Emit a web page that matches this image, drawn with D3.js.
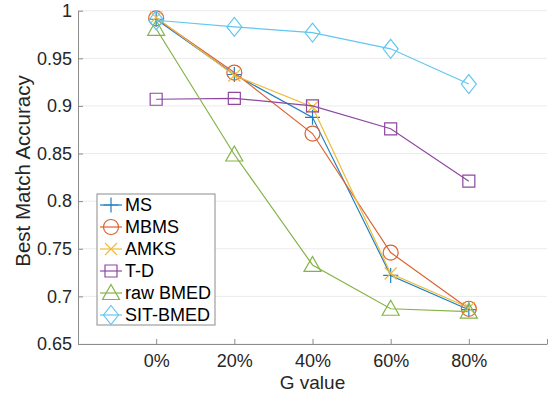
<!DOCTYPE html>
<html>
<head>
<meta charset="utf-8">
<script src="https://cdn.jsdelivr.net/npm/d3@7"></script>
<style>
  body { margin: 0; background: #fff; }
  svg { display: block; font-family: "Liberation Sans", Arial, sans-serif; }
</style>
</head>
<body>
<div id="chart"></div>
<script>
// x categories (G value, percent)
const gValues = [0, 20, 40, 60, 80];
const xTickLabels = ["0%", "20%", "40%", "60%", "80%"];
const yTicks = [0.65, 0.7, 0.75, 0.8, 0.85, 0.9, 0.95, 1];

// series values
const ms      = [0.991, 0.933, 0.888, 0.722, 0.686];
const mbms    = [0.992, 0.935, 0.871, 0.746, 0.687];
const amks    = [0.993, 0.932, 0.899, 0.724, 0.688];
const td      = [0.907, 0.908, 0.900, 0.876, 0.821];
const rawBmed = [0.981, 0.849, 0.733, 0.687, 0.684];
const sitBmed = [0.990, 0.983, 0.977, 0.960, 0.923];

const seriesNames = ["MS", "MBMS", "AMKS", "T-D", "raw BMED", "SIT-BMED"];
const seriesData = [ms, mbms, amks, td, rawBmed, sitBmed];
const colors = ["#1f7fc4", "#dc6331", "#eebb3a", "#8e48a0", "#84b447", "#63c6f0"];
const markers = ["plus", "circle", "cross", "square", "triangle", "diamond"];

const width = 550, height = 398;
const plot = { left: 78, right: 547, top: 10.7, bottom: 344 };

const svg = d3.select("#chart").append("svg")
  .attr("width", width)
  .attr("height", height);

const xScale = d3.scaleLinear().domain([-20, 100]).range([plot.left, plot.right]);
const yScale = d3.scaleLinear().domain([0.65, 1]).range([plot.bottom, plot.top]);

// horizontal grid
svg.append("g")
  .selectAll("line")
  .data(yTicks)
  .enter().append("line")
  .attr("x1", plot.left).attr("x2", plot.right)
  .attr("y1", d => yScale(d)).attr("y2", d => yScale(d))
  .attr("stroke", "#ebebeb")
  .attr("stroke-width", 1);

// axes (MATLAB style, ticks pointing inward)
const xAxis = svg.append("g")
  .attr("transform", "translate(0," + plot.bottom + ")")
  .call(d3.axisBottom(xScale).tickValues(gValues.concat([100])).tickSizeInner(-5).tickSizeOuter(0).tickPadding(10)
    .tickFormat((d, i) => i < xTickLabels.length ? xTickLabels[i] : ""));

const yAxis = svg.append("g")
  .attr("transform", "translate(" + plot.left + ",0)")
  .call(d3.axisLeft(yScale).tickValues(yTicks).tickSizeInner(-5).tickSizeOuter(0).tickPadding(6)
    .tickFormat(d => d3.format("")(+d.toFixed(2))));

[xAxis, yAxis].forEach(ax => {
  ax.select(".domain").attr("stroke", "#8c8c8c");
  ax.selectAll(".tick line").attr("stroke", "#8c8c8c");
  ax.selectAll(".tick text")
    .attr("fill", "#262626")
    .style("font-size", "18px")
    .style("font-family", "Liberation Sans, Arial, sans-serif");
});

// axis labels
svg.append("text")
  .attr("x", xScale(40))
  .attr("y", 389)
  .attr("text-anchor", "middle")
  .attr("fill", "#262626")
  .style("font-size", "19px")
  .text("G value");

svg.append("text")
  .attr("transform", "translate(30,171) rotate(-90)")
  .attr("text-anchor", "middle")
  .attr("fill", "#262626")
  .style("font-size", "20.5px")
  .text("Best Match Accuracy");

// marker shapes
function markerPath(type) {
  switch (type) {
    case "plus": return "M-7.5,0H7.5M0,-7.5V7.5";
    case "circle": {
      const p = d3.path();
      p.moveTo(7.5, 0);
      p.arc(0, 0, 7.5, 0, 2 * Math.PI);
      return p.toString();
    }
    case "cross": return "M-6,-6L6,6M-6,6L6,-6";
    case "square": return "M-6,-6H6V6H-6Z";
    case "triangle": return "M0,-8.5L8.5,6.5H-8.5Z";
    case "diamond": return "M0,-9.5L7.5,0L0,9.5L-7.5,0Z";
  }
}

const line = d3.line()
  .x((d, i) => xScale(gValues[i]))
  .y(d => yScale(d));

const series = svg.selectAll("g.series")
  .data(seriesData)
  .enter().append("g")
  .attr("class", "series");

series.append("path")
  .attr("d", d => line(d))
  .attr("fill", "none")
  .attr("stroke", (d, i) => colors[i])
  .attr("stroke-width", 1.2);

series.each(function (d, i) {
  d3.select(this).selectAll("path.marker")
    .data(d)
    .enter().append("path")
    .attr("class", "marker")
    .attr("transform", (v, j) => "translate(" + xScale(gValues[j]) + "," + yScale(v) + ")")
    .attr("d", markerPath(markers[i]))
    .attr("fill", "none")
    .attr("stroke", colors[i])
    .attr("stroke-width", 1.2);
});

// legend
const legendBox = { x: 97, y: 194, w: 118, h: 131 };
svg.append("rect")
  .attr("x", legendBox.x).attr("y", legendBox.y)
  .attr("width", legendBox.w).attr("height", legendBox.h)
  .attr("fill", "#fff")
  .attr("stroke", "#8c8c8c")
  .attr("stroke-width", 1);

const legend = svg.selectAll(".legend")
  .data(seriesNames)
  .enter().append("g")
  .attr("class", "legend")
  .attr("transform", (d, i) => "translate(0," + (205 + i * 22) + ")");

legend.append("line")
  .attr("x1", 100).attr("x2", 122)
  .attr("y1", 0).attr("y2", 0)
  .attr("stroke", (d, i) => colors[i])
  .attr("stroke-width", 1.2);

legend.append("path")
  .attr("transform", "translate(111,0)")
  .attr("d", (d, i) => markerPath(markers[i]))
  .attr("fill", "none")
  .attr("stroke", (d, i) => colors[i])
  .attr("stroke-width", 1.2);

legend.append("text")
  .attr("x", 125)
  .attr("y", 0)
  .attr("dy", "0.36em")
  .attr("fill", "#000")
  .style("font-size", "18px")
  .text(d => d);
</script>
</body>
</html>
